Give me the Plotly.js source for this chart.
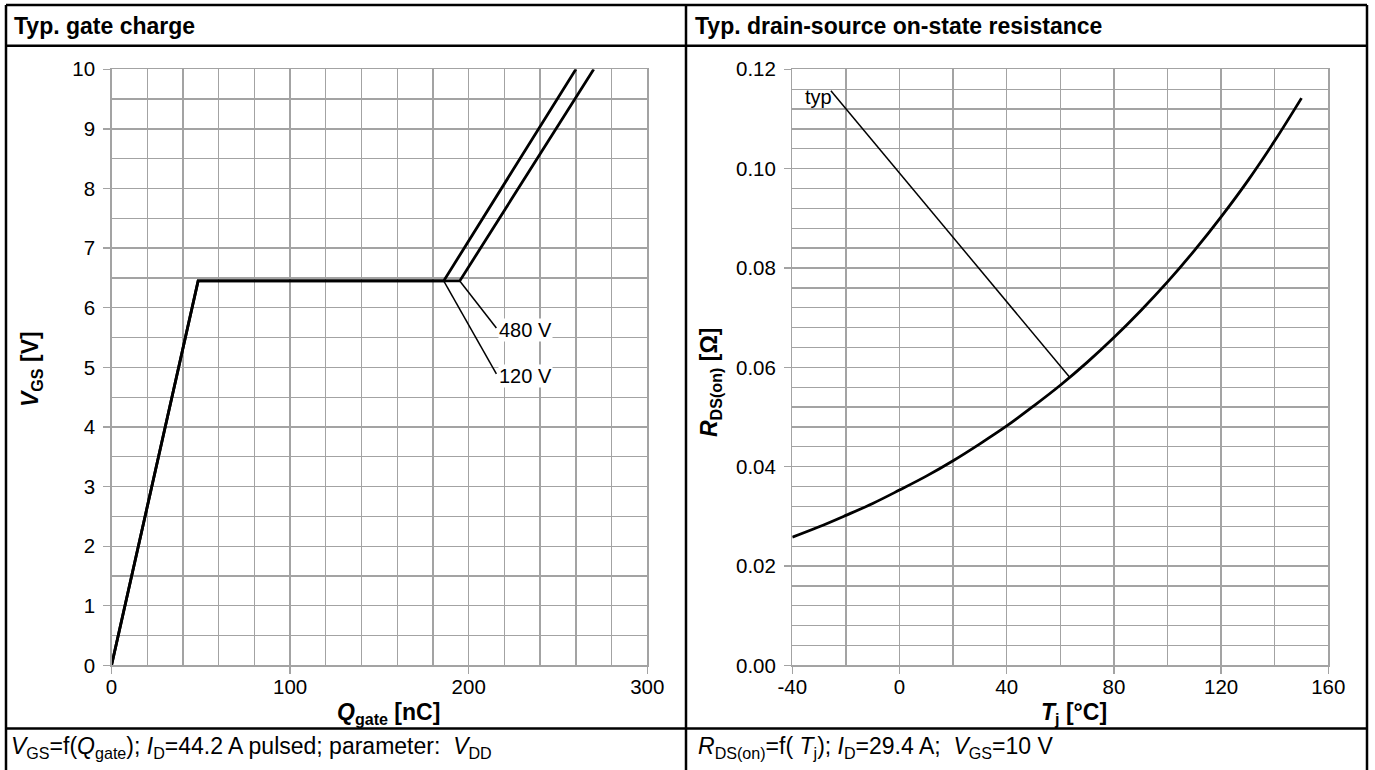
<!DOCTYPE html>
<html>
<head>
<meta charset="utf-8">
<script src="https://cdn.plot.ly/plotly-3.0.1.min.js"></script>
<style>html,body{margin:0;padding:0;background:#fff;}#chart{width:1375px;height:770px;}</style>
</head>
<body>
<div id="chart"></div>
<script>
// ---- Data: gate charge (left panel) ----
const qGate120 = [0, 48.5, 186, 260];
const vGs120   = [0, 6.45, 6.45, 10];
const qGate480 = [0, 48.5, 195, 270];
const vGs480   = [0, 6.45, 6.45, 10];
const lead120Q = [186, 215.5];
const lead120V = [6.45, 4.89];
const lead480Q = [195, 215.5];
const lead480V = [6.45, 5.66];
const vddLabels = ['480 V', '120 V'];
const vddLabelQ = [216.3, 216.3];
const vddLabelV = [5.62, 4.86];

// ---- Data: on-state resistance (right panel) ----
const tj  = [-40, -30, -20, -10, 0, 10, 20, 30, 40, 50, 60, 70, 80, 90, 100, 110, 120, 130, 140, 150];
const rds = [0.0258, 0.0279, 0.0302, 0.0326, 0.0353, 0.0381, 0.0412, 0.0446, 0.0482, 0.0522,
             0.0564, 0.0610, 0.0660, 0.0714, 0.0772, 0.0835, 0.0903, 0.0976, 0.1056, 0.1142];
const typLeadT = [-25.6, 63.5];
const typLeadR = [0.1157, 0.0580];
const typLabel = 'typ';
const typLabelT = -24.8;
const typLabelR = 0.1145;

// ---- Tick labels ----
const xTicksL = [0, 100, 200, 300];
const yTicksL = [0,1,2,3,4,5,6,7,8,9,10];
const xTicksR = [-40, 0, 40, 80, 120, 160];
const yTicksR = [0, 0.02, 0.04, 0.06, 0.08, 0.10, 0.12];

const W = 1375, H = 770;
const fx = p => p / W;
const fy = p => 1 - p / H;
const FONT = 'Liberation Sans, Arial, Helvetica, sans-serif';
const GRID = '#a3a3a3';

const thick = {color: '#000', width: 2.8};
const thin = {color: '#000', width: 1.5};

const traces = [
  {x: qGate120, y: vGs120, mode: 'lines', line: thick, xaxis: 'x', yaxis: 'y', hoverinfo: 'skip'},
  {x: qGate480, y: vGs480, mode: 'lines', line: thick, xaxis: 'x', yaxis: 'y', hoverinfo: 'skip'},
  {x: lead480Q, y: lead480V, mode: 'lines', line: thin, xaxis: 'x', yaxis: 'y', hoverinfo: 'skip'},
  {x: lead120Q, y: lead120V, mode: 'lines', line: thin, xaxis: 'x', yaxis: 'y', hoverinfo: 'skip'},
  {x: tj, y: rds, mode: 'lines', line: {color: '#000', width: 2.8, shape: 'spline'}, xaxis: 'x2', yaxis: 'y2', hoverinfo: 'skip'},
  {x: typLeadT, y: typLeadR, mode: 'lines', line: thin, xaxis: 'x2', yaxis: 'y2', hoverinfo: 'skip'}
];

const TICKSIZE = 20.5;
function axisBase(extra) {
  return Object.assign({
    showgrid: true, gridcolor: GRID, gridwidth: 1.3,
    zeroline: false,
    showline: true, linecolor: GRID, linewidth: 1.3, mirror: true,
    ticks: 'outside', ticklen: 7, tickcolor: GRID, tickwidth: 1.3,
    tickfont: {family: FONT, size: TICKSIZE, color: '#000'},
    fixedrange: true
  }, extra);
}

const plotY0 = 69.3, plotY1 = 665.4;
const layout = {
  width: W, height: H,
  margin: {l: 0, r: 0, t: 0, b: 0},
  paper_bgcolor: '#fff', plot_bgcolor: '#fff',
  showlegend: false,
  font: {family: FONT, color: '#000'},
  xaxis: axisBase({domain: [fx(111.5), fx(647.3)], range: [0, 300], anchor: 'y',
    tickmode: 'array', tickvals: xTicksL, ticktext: xTicksL.map(String), ticklabelstandoff: -4,
    minor: {dtick: 20, tick0: 0, showgrid: true, gridcolor: GRID, gridwidth: 1.3}}),
  yaxis: axisBase({domain: [fy(plotY1), fy(plotY0)], range: [0, 10], anchor: 'x',
    tickmode: 'array', tickvals: yTicksL, ticktext: yTicksL.map(String), ticklabelstandoff: 4,
    minor: {dtick: 0.5, tick0: 0, showgrid: true, gridcolor: GRID, gridwidth: 1.3}}),
  xaxis2: axisBase({domain: [fx(792.3), fx(1328.3)], range: [-40, 160], anchor: 'y2',
    tickmode: 'array', tickvals: xTicksR, ticktext: xTicksR.map(String), ticklabelstandoff: -4,
    minor: {dtick: 20, tick0: -40, showgrid: true, gridcolor: GRID, gridwidth: 1.3}}),
  yaxis2: axisBase({domain: [fy(plotY1), fy(plotY0)], range: [0, 0.12], anchor: 'x2',
    tickmode: 'array', tickvals: yTicksR, ticktext: yTicksR.map(v => v.toFixed(2)), ticklabelstandoff: 4,
    minor: {dtick: 0.004, tick0: 0, showgrid: true, gridcolor: GRID, gridwidth: 1.3}}),
  shapes: [],
  annotations: []
};

// frame lines
const frame = [
  [6, 5, 1367, 5], [6, 5, 6, 770], [1367, 5, 1367, 770],
  [6, 45.7, 1367, 45.7], [6, 728.5, 1367, 728.5], [686, 5, 686, 770]
];
frame.forEach(f => layout.shapes.push({type: 'line', xref: 'paper', yref: 'paper',
  x0: fx(f[0]), y0: fy(f[1]), x1: fx(f[2]), y1: fy(f[3]), line: {color: '#000', width: 2.5}}));

function paperText(text, x, y, opts) {
  layout.annotations.push(Object.assign({text: text, x: fx(x), y: fy(y), xref: 'paper', yref: 'paper',
    showarrow: false, xanchor: 'left', yanchor: 'middle', font: {family: FONT, size: 23, color: '#000'}}, opts || {}));
}

// headers
const headFont = {family: FONT, size: 23, color: '#000'};
paperText('<b>Typ. gate charge</b>', 12, 26, {font: headFont});
paperText('<b>Typ. drain-source on-state resistance</b>', 693, 26, {font: headFont});
// footers
paperText('<i>V</i><sub>GS</sub>=f(<i>Q</i><sub>gate</sub>); <i>I</i><sub>D</sub>=44.2 A pulsed; parameter:  <i>V</i><sub>DD</sub>', 9, 747);
paperText('<i>R</i><sub>DS(on)</sub>=f( <i>T</i><sub>j</sub>); <i>I</i><sub>D</sub>=29.4 A;  <i>V</i><sub>GS</sub>=10 V', 696, 747);
// axis titles
const titleFont = {family: FONT, size: 23, color: '#000'};
paperText('<b><i>Q</i><sub>gate</sub> [nC]</b>', 388, 713, {xanchor: 'center', font: titleFont});
paperText('<b><i>T</i><sub>j</sub> [°C]</b>', 1074, 713, {xanchor: 'center', font: titleFont});
paperText('<b><i>V</i><sub>GS</sub> [V]</b>', 31, 369, {xanchor: 'center', textangle: -90, font: titleFont});
paperText('<b><i>R</i><sub>DS(on)</sub> [Ω]</b>', 710, 382, {xanchor: 'center', textangle: -90, font: titleFont});

// curve labels
vddLabels.forEach((t, i) => layout.annotations.push({text: t, x: vddLabelQ[i], y: vddLabelV[i], xref: 'x', yref: 'y',
  showarrow: false, xanchor: 'left', yanchor: 'middle', bgcolor: '#fff', borderpad: 0,
  font: {family: FONT, size: 20, color: '#000'}}));
layout.annotations.push({text: typLabel, x: typLabelT, y: typLabelR, xref: 'x2', yref: 'y2',
  showarrow: false, xanchor: 'right', yanchor: 'middle', borderpad: 0,
  font: {family: FONT, size: 20, color: '#000'}});

Plotly.newPlot('chart', traces, layout, {staticPlot: true, displayModeBar: false});
</script>
</body>
</html>
